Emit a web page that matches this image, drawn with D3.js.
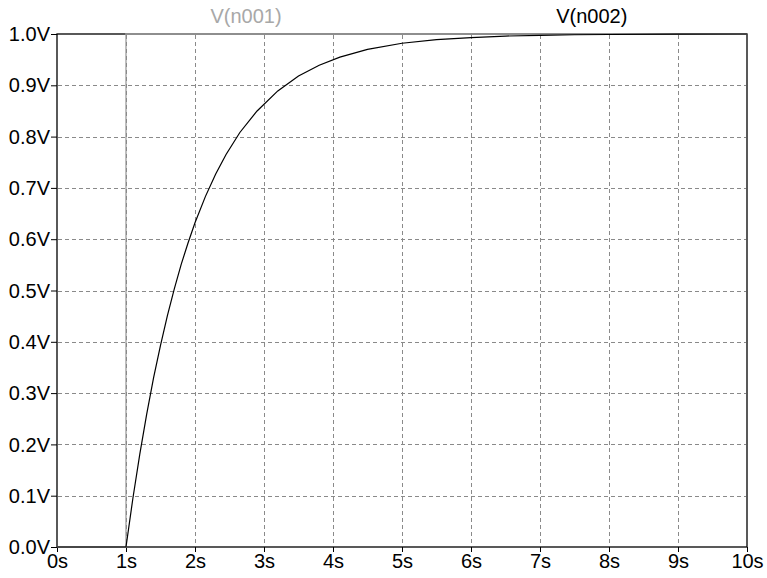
<!DOCTYPE html>
<html>
<head>
<meta charset="utf-8">
<script src="https://cdn.jsdelivr.net/npm/d3@7"></script>
<style>
  html, body { margin: 0; padding: 0; background: #fff; }
  svg { display: block; font-family: "Liberation Sans", Arial, sans-serif; }
</style>
</head>
<body>
<svg id="chart" width="767" height="578"></svg>
<script>
// Axis ticks
const xTicks = [0, 1, 2, 3, 4, 5, 6, 7, 8, 9, 10];
const yTicks = [0, 0.1, 0.2, 0.3, 0.4, 0.5, 0.6, 0.7, 0.8, 0.9, 1.0];

// V(n001): input step
const stepTime = [0, 1, 1, 10];
const stepVolt = [0, 0, 1, 1];

// V(n002): RC response
const respTime = [0, 1, 1.1, 1.2, 1.3, 1.4, 1.5, 1.6, 1.7, 1.8, 1.9, 2.0, 2.15, 2.3, 2.45, 2.65,
                  2.9, 3.2, 3.5, 3.8, 4.1, 4.5, 5.0, 5.5, 6.0, 6.5, 7.0, 7.5, 8, 9, 10];
const respVolt = [0, 0, 0.095, 0.181, 0.259, 0.33, 0.393, 0.451, 0.503, 0.551, 0.593, 0.632, 0.683,
                  0.727, 0.765, 0.808, 0.85, 0.889, 0.918, 0.939, 0.955, 0.970, 0.982, 0.989, 0.993,
                  0.996, 0.9975, 0.9985, 0.999, 0.9997, 1.0];

const traceNames = ["V(n001)", "V(n002)"];
const traceColors = ["#a0a0a0", "#000000"];
const nameColors = ["#a8a8a8", "#000000"];

const svg = d3.select("#chart");
const m = { left: 57, right: 20, top: 34, bottom: 31 };
const W = 767, H = 578;
const FONT = 20;

const x = d3.scaleLinear().domain([0, 10]).range([m.left, W - m.right]);
const y = d3.scaleLinear().domain([0, 1]).range([H - m.bottom, m.top]);

// axes
const fmtV = d => d.toFixed(1) + "V";
const yAxis = d3.axisLeft(y).tickValues(yTicks).tickFormat(fmtV).tickSize(6).tickPadding(1);
const xAxis = d3.axisBottom(x).tickValues(xTicks).tickFormat(d => d + "s").tickSize(5).tickPadding(1);

const gy = svg.append("g").attr("transform", `translate(${x(0)},0)`).call(yAxis);
const gx = svg.append("g").attr("transform", `translate(0,${y(0)})`).call(xAxis);
[gy, gx].forEach(g => {
  g.select(".domain").remove();
  g.selectAll(".tick line").attr("stroke", "#000");
  g.selectAll(".tick text").attr("fill", "#000").attr("font-size", FONT)
    .attr("font-family", "'Liberation Sans', Arial, sans-serif");
});
gy.selectAll(".tick text").attr("dy", "0.33em");
gx.selectAll(".tick text").attr("dy", "0.75em");

// frame
svg.append("rect").attr("x", x(0)).attr("y", y(1))
  .attr("width", x(10) - x(0)).attr("height", y(0) - y(1))
  .attr("fill", "none").attr("stroke", "#000").attr("stroke-width", 1.3);

// step trace (semi-transparent, so it darkens where it runs over the frame)
const line = d3.line().x(d => x(d[0])).y(d => y(d[1]));
svg.append("path").datum(d3.zip(stepTime, stepVolt)).attr("d", line)
  .attr("fill", "none").attr("stroke", traceColors[0]).attr("stroke-opacity", 0.75)
  .attr("stroke-width", 1.8);

// grid
const grid = svg.append("g").attr("stroke", "#8a8a8a").attr("stroke-width", 1)
  .attr("stroke-dasharray", "4,3").attr("shape-rendering", "crispEdges");
grid.selectAll("line.v").data(xTicks.slice(1, -1)).join("line")
  .attr("x1", d => Math.round(x(d)) + 0.5).attr("x2", d => Math.round(x(d)) + 0.5)
  .attr("y1", y(1) + 1).attr("y2", y(0) - 1);
grid.selectAll("line.h").data(yTicks.slice(1, -1)).join("line")
  .attr("y1", d => Math.round(y(d)) + 0.5).attr("y2", d => Math.round(y(d)) + 0.5)
  .attr("x1", x(0) + 1).attr("x2", x(10) - 1);

// response trace
svg.append("path").datum(d3.zip(respTime, respVolt)).attr("d", line)
  .attr("fill", "none").attr("stroke", traceColors[1]).attr("stroke-width", 1.2);

// trace names
const legendX = [2.74, 7.75];
svg.selectAll("text.name").data(traceNames).join("text")
  .attr("class", "name")
  .attr("x", (d, i) => x(legendX[i])).attr("y", 23)
  .attr("text-anchor", "middle").attr("font-size", FONT)
  .attr("fill", (d, i) => nameColors[i])
  .text(d => d);
</script>
</body>
</html>
